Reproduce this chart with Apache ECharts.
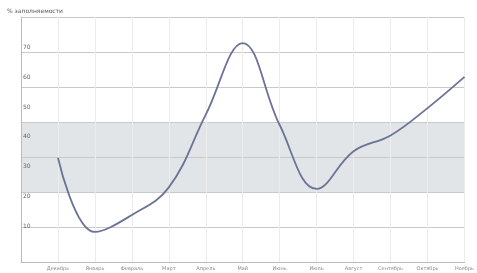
<!DOCTYPE html>
<html>
<head>
<meta charset="utf-8">
<script src="https://cdn.jsdelivr.net/npm/echarts@6/dist/echarts.min.js"></script>
<style>
    html, body { margin: 0; padding: 0; background: #fff; }
    #chart { width: 477px; height: 273px; }
</style>
</head>
<body>
<div id="chart"></div>
<script>
    // месяцы (первая позиция пустая - отступ слева)
    var months = ['', 'Декабрь', 'Январь', 'Февраль', 'Март', 'Апрель', 'Май',
        'Июнь', 'Июль', 'Август', 'Сентябрь', 'Октябрь', 'Ноябрь'];
    // % заполняемости
    var fill = [null, 33, 8, 13.7, 23, 47.5, 71.6, 44, 22.5, 35.2, 40.5, 49.7, 60.2];
    var yTicks = [10, 20, 30, 40, 50, 60, 70];
    // серая полоса (по сетке)
    var bandFrom = 20, bandTo = 40;

    var chart = echarts.init(document.getElementById('chart'));

    var areaColors = [];
    for (var i = 0; i < 7; i++) {
        areaColors.push(i * 10 >= bandFrom && i * 10 < bandTo ? '#e1e5e8' : 'rgba(0,0,0,0)');
    }

    chart.setOption({
        animation: false,
        title: {
            text: '% заполняемости',
            left: 2,
            top: 3,
            textStyle: { fontSize: 6, fontWeight: 'normal', color: '#555', fontFamily: 'DejaVu Sans' }
        },
        grid: { left: 21, right: 7, top: 17, bottom: 11 },
        xAxis: {
            type: 'category',
            data: months,
            boundaryGap: false,
            axisLine: { lineStyle: { color: '#bbb' } },
            axisTick: { show: false },
            axisLabel: { fontSize: 5, color: '#888', margin: 4, interval: 0, fontFamily: 'DejaVu Sans' },
            splitLine: { show: true, lineStyle: { color: '#ececec' } }
        },
        yAxis: [{
            // сетка
            type: 'value',
            min: 0,
            max: 70,
            interval: 10,
            axisLine: { show: true, lineStyle: { color: '#bbb' } },
            axisTick: { show: false },
            axisLabel: { show: false },
            splitLine: { show: true, lineStyle: { color: '#c9c9c9', width: 1.2 } },
            splitArea: { show: true, areaStyle: { color: areaColors } }
        }, {
            // подписи
            type: 'value',
            position: 'left',
            min: -2.12,
            max: 80.37,
            axisLine: { show: false },
            axisTick: { show: false },
            splitLine: { show: false },
            axisLabel: {
                inside: true,
                customValues: yTicks,
                fontSize: 6,
                color: '#666',
                margin: 2,
                fontFamily: 'DejaVu Sans'
            }
        }],
        series: [{
            type: 'line',
            yAxisIndex: 1,
            data: fill,
            smooth: 0.4,
            symbol: 'none',
            lineStyle: { color: '#6b7396', width: 1.8 }
        }]
    });
</script>
</body>
</html>
